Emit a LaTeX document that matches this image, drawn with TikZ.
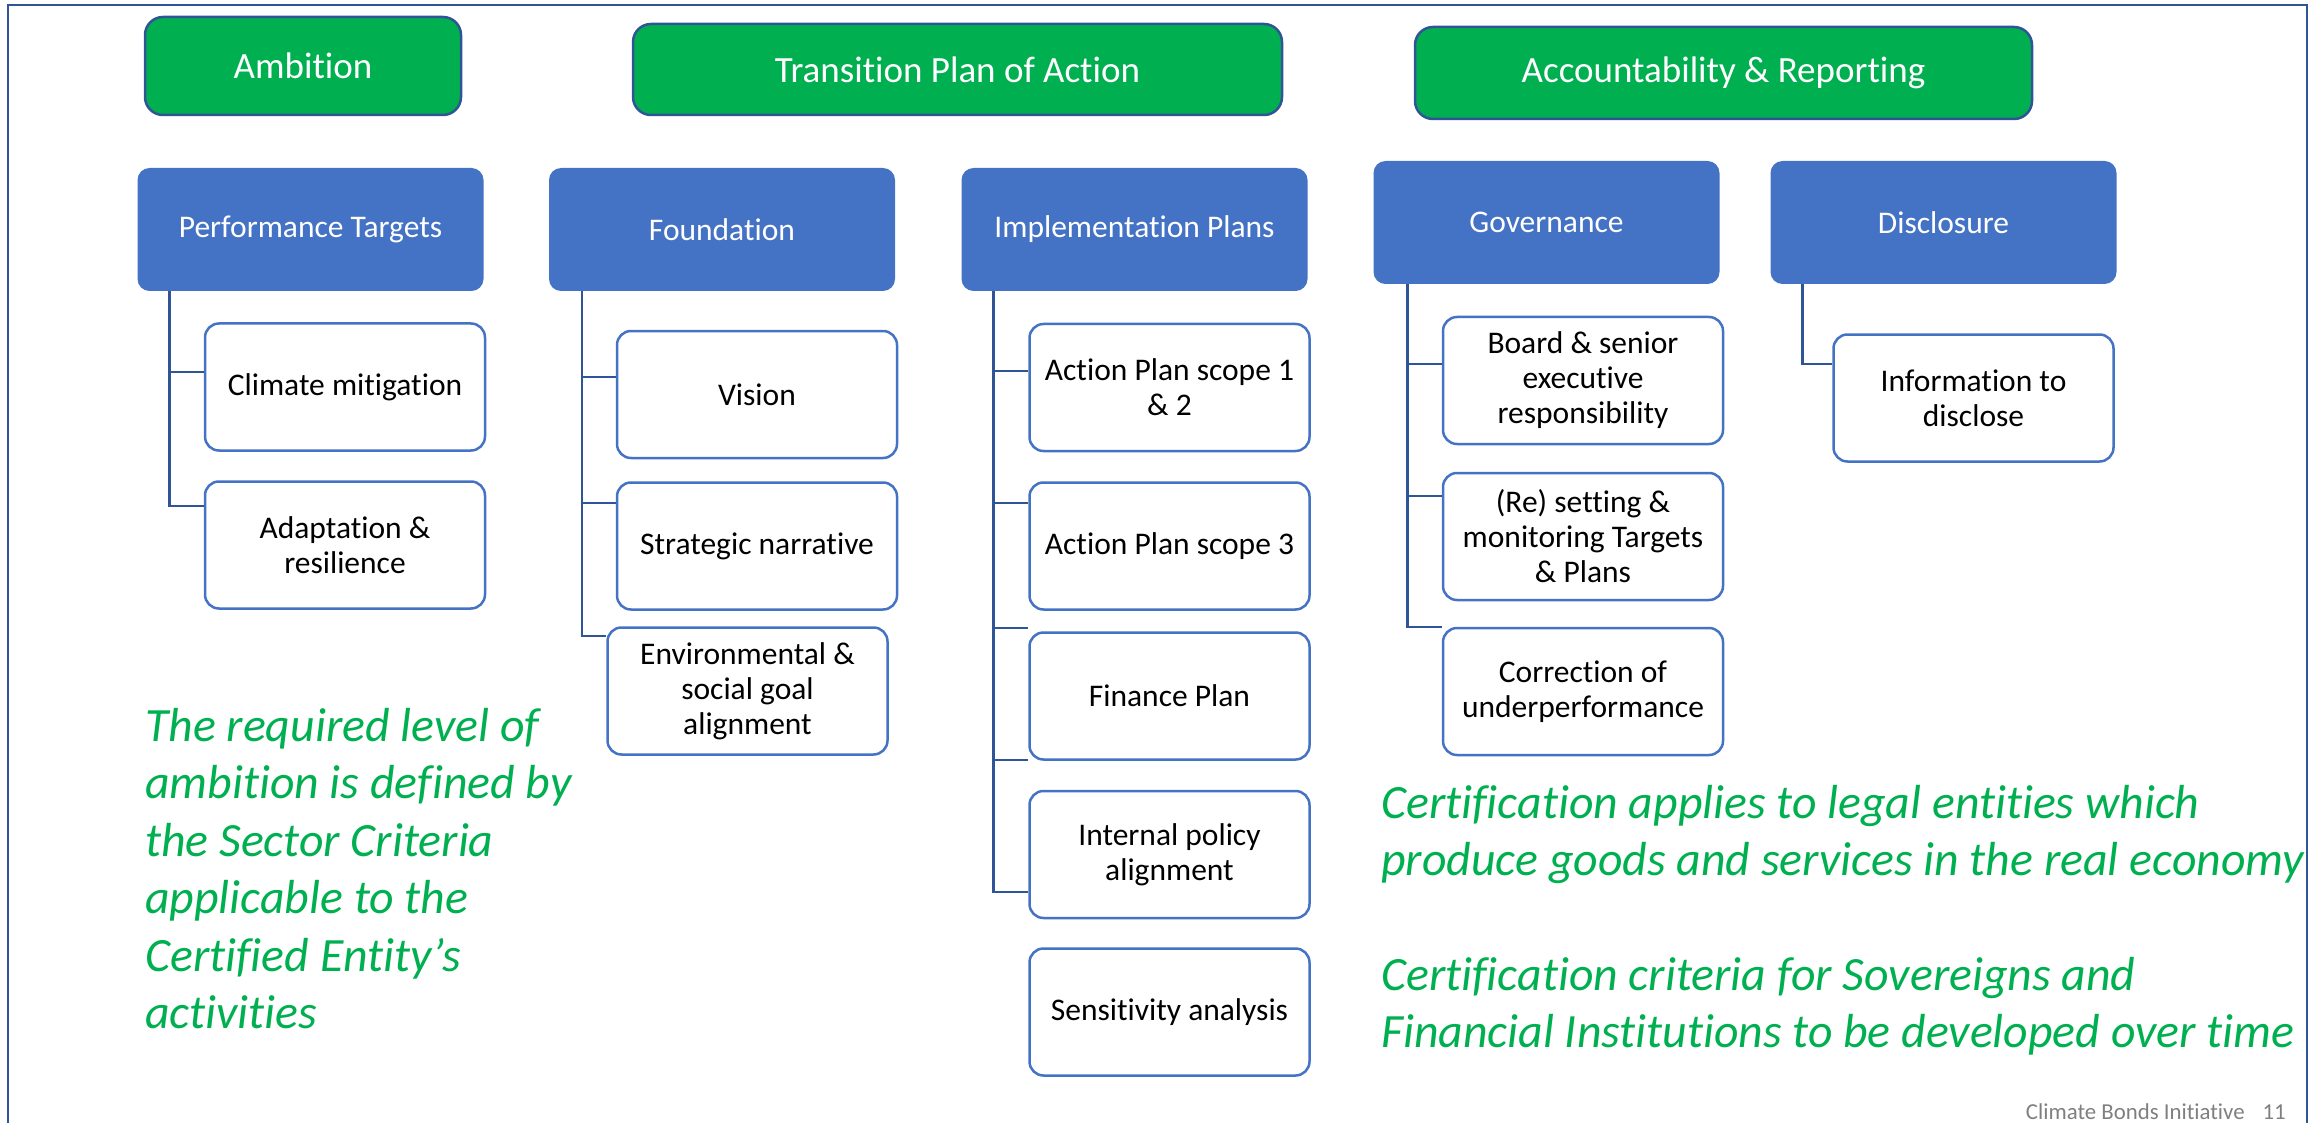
\documentclass[tikz,border=0pt]{standalone}
\usepackage{fontspec}
\setmainfont{Carlito}[Ligatures=NoCommon]
\usepackage{tikz}

\definecolor{cbigreen}{HTML}{00B050}
\definecolor{cbiblue}{HTML}{4472C4}
\definecolor{cbinavy}{HTML}{2F5597}
\definecolor{cbigrey}{HTML}{7F7F7F}

\begin{document}
\begin{tikzpicture}[x=1pt, y=-1pt]
                \useasboundingbox (0,0) rectangle (2313,1123);
                \draw[cbinavy, line width=2.5pt] (8,5) rectangle (2307,1160);
                % pillars
                \begin{scope}[every node/.style={draw=cbinavy, line width=2.5pt, fill=cbigreen, text=white, rounded corners=18pt, inner sep=0pt, font=\fontsize{37}{44}\selectfont}]
                        \node[minimum width=316pt, minimum height=98pt] (Amb) at (303,66) {Ambition};
                        \node[minimum width=649pt, minimum height=91pt] (Tpa) at (957.5,69.5) {Transition Plan of Action};
                        \node[minimum width=617pt, minimum height=92pt] (Acr) at (1723.5,73) {Accountability \& Reporting};
                \end{scope}
                % elements
                \begin{scope}[every node/.style={fill=cbiblue, text=white, rounded corners=12pt, minimum width=346pt, minimum height=123pt, inner sep=0pt, font=\fontsize{31.5}{35}\selectfont}]
                        \node (Pt) at (310.5,229.5) {Performance Targets};
                        \node (Fnd) at (722,229.5) {Foundation};
                        \node (Ip) at (1134.5,229.5) {Implementation Plans};
                        \node (Gov) at (1546.5,222.5) {Governance};
                        \node (Dis) at (1943.5,222.5) {Disclosure};
                \end{scope}
                % components
                \begin{scope}[every node/.style={draw=cbiblue, line width=2.5pt, fill=white, rounded corners=14pt, minimum width=280pt, minimum height=127pt, inner sep=0pt, align=center, font=\fontsize{31.5}{35}\selectfont}]
                        \node (Cm) at (345,387) {Climate mitigation};
                        \node (Ad) at (345,545) {Adaptation \&\\resilience};
                        \node (Vis) at (757,394.5) {Vision};
                        \node (Sn) at (757,546) {Strategic narrative};
                        \node (Env) at (747.5,691) {Environmental \&\\social goal\\alignment};
                        \node (Apa) at (1169.5,387.5) {Action Plan scope 1\\\& 2};
                        \node (Apb) at (1169.5,546) {Action Plan scope 3};
                        \node (Fin) at (1169.5,696) {Finance Plan};
                        \node (Ipa) at (1169.5,854.5) {Internal policy\\alignment};
                        \node (Sen) at (1169.5,1012) {Sensitivity analysis};
                        \node (Brd) at (1583,380.5) {Board \& senior\\executive\\responsibility};
                        \node (Rst) at (1583,536.5) {(Re) setting \&\\monitoring Targets\\\& Plans};
                        \node (Cor) at (1583,691.5) {Correction of\\underperformance};
                        \node (Inf) at (1973.5,398) {Information to\\disclose};
                \end{scope}
                \begin{scope}[every path/.style={draw=cbinavy, line width=2.5pt}]
                        \draw ([xshift=32pt]Pt.south west) |- ([yshift=15pt]Cm.west);
                        \draw ([xshift=32pt]Pt.south west) |- ([yshift=39pt]Ad.west);
                        \draw ([xshift=33pt]Fnd.south west) |- ([yshift=17.5pt]Vis.west);
                        \draw ([xshift=33pt]Fnd.south west) |- ([yshift=43pt]Sn.west);
                        \draw ([xshift=33pt]Fnd.south west) |- ([yshift=55pt]Env.west);
                        \draw ([xshift=32pt]Ip.south west) |- ([yshift=16.5pt]Apa.west);
                        \draw ([xshift=32pt]Ip.south west) |- ([yshift=43pt]Apb.west);
                        \draw ([xshift=32pt]Ip.south west) |- ([yshift=68pt]Fin.west);
                        \draw ([xshift=32pt]Ip.south west) |- ([yshift=94.5pt]Ipa.west);
                        \draw ([xshift=32pt]Ip.south west) |- ([yshift=120pt]Sen.west);
                        \draw ([xshift=34pt]Gov.south west) |- ([yshift=16.5pt]Brd.west);
                        \draw ([xshift=34pt]Gov.south west) |- ([yshift=40.5pt]Rst.west);
                        \draw ([xshift=34pt]Gov.south west) |- ([yshift=64.5pt]Cor.west);
                        \draw ([xshift=32pt]Dis.south west) |- ([yshift=34pt]Inf.west);
                \end{scope}
                % notes
                \begin{scope}[every node/.style={text=cbigreen, align=left, anchor=north west, inner sep=0pt, font=\fontsize{47.8}{57.5}\selectfont\itshape}]
                        \node (Lvl) at (145,708) {The required level of\\ambition is defined by\\the Sector Criteria\\applicable to the\\Certified Entity’s\\activities};
                        \node (Cert) at (1381,785) {Certification applies to legal entities which\\produce goods and services in the real economy};
                        \node (Dev) at (1381,957) {Certification criteria for Sovereigns and\\Financial Institutions to be developed over time};
                \end{scope}
                \node[text=cbigrey, anchor=base east, inner sep=0pt, font=\fontsize{22.8}{26}\selectfont] (Ftr) at (2286,1119) {Climate Bonds Initiative\hspace{18pt}11};
        \end{tikzpicture}
\end{document}
